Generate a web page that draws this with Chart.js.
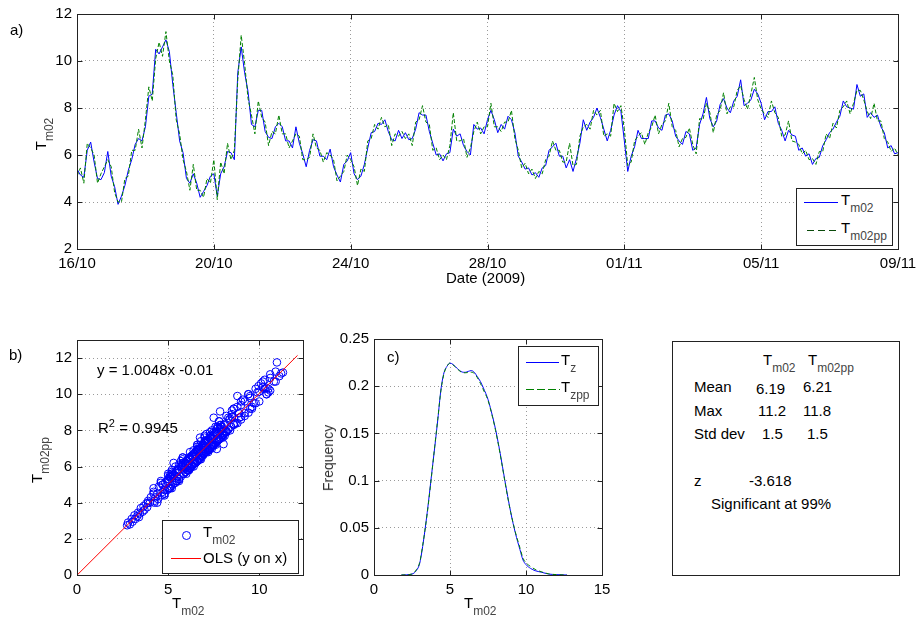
<!DOCTYPE html>
<html>
<head>
<meta charset="utf-8">
<script src="https://cdn.jsdelivr.net/npm/chart.js@4.4.1/dist/chart.umd.min.js"></script>
<style>
  body { margin: 0; background: #fff; font-family: "Liberation Sans", Arial, sans-serif; }
  #fig { position: relative; width: 920px; height: 620px; overflow: hidden; }
  canvas { position: absolute; }
  .txt { position: absolute; white-space: nowrap; font-size: 15px; color: #000; line-height: 1; }
  .sub { font-size: 12px; position: relative; top: 7px; color: #444; }
  .sup { font-size: 11px; position: relative; top: -6px; }
  .rot { transform: translate(-50%, -50%) rotate(-90deg); }
  .box { position: absolute; border: 1px solid #222; background: #fff; }
  .ln { position: absolute; height: 1px; }
</style>
</head>
<body>
<div id="fig">
  <canvas id="ca" width="920" height="300" style="left:0;top:0"></canvas>
  <canvas id="cb" width="320" height="320" style="left:0;top:300px"></canvas>
  <canvas id="cc" width="300" height="320" style="left:320px;top:300px"></canvas>

  <!-- panel a texts -->
  <div class="txt" style="left:10px;top:22px">a)</div>
  <div class="txt rot" style="left:40px;top:134px">T<span class="sub">m02</span></div>
  <div class="txt" style="left:446px;top:270px">Date (2009)</div>
  <div class="box" style="left:796px;top:188px;width:95px;height:56px">
    <div class="ln" style="left:7px;top:13px;width:34px;background:#00f"></div>
    <div class="txt" style="left:44px;top:3px">T<span class="sub">m02</span></div>
    <div class="ln" style="left:10px;top:41px;width:32px;background:repeating-linear-gradient(to right,#0a4a0a 0 7px,transparent 7px 11px)"></div>
    <div class="txt" style="left:44px;top:31px">T<span class="sub">m02pp</span></div>
  </div>

  <!-- panel b texts -->
  <div class="txt" style="left:9px;top:347px">b)</div>
  <div class="txt rot" style="left:36px;top:460px">T<span class="sub">m02pp</span></div>
  <div class="txt" style="left:172px;top:595px">T<span class="sub">m02</span></div>
  <div class="txt" style="left:97px;top:362px">y = 1.0048x -0.01</div>
  <div class="txt" style="left:98px;top:420px">R<span class="sup">2</span> = 0.9945</div>
  <div class="box" style="left:162px;top:520px;width:135px;height:52px">
    <div style="position:absolute;left:19px;top:10px;width:7px;height:7px;border:1px solid #00f;border-radius:50%"></div>
    <div class="txt" style="left:40px;top:3px">T<span class="sub">m02</span></div>
    <div class="ln" style="left:8px;top:37px;width:30px;background:#f00"></div>
    <div class="txt" style="left:40px;top:29px">OLS (y on x)</div>
  </div>

  <!-- panel c texts -->
  <div class="txt" style="left:387px;top:349px">c)</div>
  <div class="txt rot" style="left:328px;top:458px;font-size:14px;color:#333">Frequency</div>
  <div class="txt" style="left:464px;top:595px">T<span class="sub">m02</span></div>
  <div class="box" style="left:518px;top:346px;width:79px;height:58px">
    <div class="ln" style="left:7px;top:15px;width:33px;background:#00f"></div>
    <div class="txt" style="left:42px;top:5px">T<span class="sub">z</span></div>
    <div class="ln" style="left:7px;top:42px;width:34px;background:repeating-linear-gradient(to right,#008000 0 8px,transparent 8px 11px)"></div>
    <div class="txt" style="left:42px;top:32px">T<span class="sub">zpp</span></div>
  </div>

  <!-- panel d: statistics box -->
  <div class="box" style="left:672px;top:341px;width:226px;height:233px"></div>
  <div class="txt" style="left:763px;top:352px">T<span class="sub">m02</span></div>
  <div class="txt" style="left:808px;top:352px">T<span class="sub">m02pp</span></div>
  <div class="txt" style="left:694px;top:379px">Mean</div>
  <div class="txt" style="left:756px;top:381px">6.19</div>
  <div class="txt" style="left:803px;top:379px">6.21</div>
  <div class="txt" style="left:694px;top:403px">Max</div>
  <div class="txt" style="left:758px;top:403px">11.2</div>
  <div class="txt" style="left:803px;top:403px">11.8</div>
  <div class="txt" style="left:694px;top:426px">Std dev</div>
  <div class="txt" style="left:762px;top:426px">1.5</div>
  <div class="txt" style="left:807px;top:426px">1.5</div>
  <div class="txt" style="left:694px;top:473px">z</div>
  <div class="txt" style="left:749px;top:473px">-3.618</div>
  <div class="txt" style="left:711px;top:496px">Significant at 99%</div>
</div>

<script>
'use strict';
//___________DATA__________________
// a) time series, one value every 0.1 day from 16/10/2009
var dayStep = 0.1;
var dateLabels = ['16/10', '20/10', '24/10', '28/10', '01/11', '05/11', '09/11'];
var tm02 = [
  5.4, 5.15, 5.05, 6.2, 6.55, 5.7, 5.0, 4.95, 5.25, 6.15,
  5.1, 4.65, 3.9, 4.25, 4.7, 5.35, 5.8, 6.45, 6.7, 6.6,
  7.2, 8.5, 8.6, 10.5, 10.3, 10.6, 10.9, 10.4, 9.0, 7.8,
  6.6, 6.1, 5.0, 4.8, 5.2, 4.8, 4.2, 4.45, 4.7, 5.1,
  5.2, 4.25, 5.2, 5.5, 6.15, 6.1, 5.8, 9.5, 10.6, 9.5,
  8.7, 7.3, 7.2, 7.9, 7.9, 7.0, 6.75, 6.7, 7.2, 7.35,
  7.2, 6.6, 6.6, 6.3, 7.2, 6.5, 6.05, 5.5, 6.2, 6.65,
  6.6, 5.95, 5.95, 5.8, 6.25, 5.5, 5.15, 4.85, 5.6, 5.75,
  6.1, 5.2, 4.95, 5.1, 5.6, 6.3, 6.95, 7.0, 7.35, 7.3,
  7.5, 7.0, 6.65, 6.6, 7.05, 6.7, 6.95, 6.65, 6.7, 7.1,
  7.8, 7.7, 7.7, 7.0, 6.5, 6.0, 6.05, 5.75, 6.05, 6.1,
  7.1, 6.8, 6.9, 6.4, 6.15, 6.0, 7.3, 7.1, 7.15, 6.9,
  7.5, 7.9, 7.5, 6.95, 7.3, 7.1, 7.65, 7.5, 6.95, 5.95,
  5.7, 5.4, 5.45, 5.15, 5.25, 5.05, 5.45, 5.55, 6.2, 6.35,
  6.5, 5.95, 5.95, 5.45, 5.8, 5.3, 5.85, 6.5, 7.5, 7.05,
  7.4, 7.6, 8.0, 7.6, 7.1, 6.6, 7.05, 7.7, 8.1, 7.85,
  6.6, 5.3, 5.95, 6.35, 7.05, 6.7, 6.7, 6.7, 7.45, 7.45,
  7.15, 7.05, 7.7, 7.75, 7.45, 6.8, 6.6, 6.45, 7.0, 6.9,
  6.2, 6.3, 7.3, 7.75, 8.45, 7.55, 7.2, 7.45, 8.15, 8.4,
  8.0, 7.8, 8.3, 8.5, 9.2, 8.1, 8.2, 8.35, 8.8, 8.6,
  8.2, 7.5, 7.85, 7.85, 8.05, 7.35, 7.05, 6.6, 7.05, 6.85,
  6.8, 6.2, 6.3, 5.95, 6.05, 5.6, 5.85, 5.9, 6.4, 6.65,
  6.95, 7.1, 7.4, 7.65, 8.3, 8.05, 8.0, 7.95, 9.0, 8.5,
  8.6, 7.6, 7.8, 7.6, 7.7, 7.2, 6.95, 6.3, 6.4, 6.05,
  6.1
];
var tm02pp = [
  5.1, 5.45, 4.8, 6.5, 6.3, 6.0, 4.8, 5.2, 5.5, 5.8,
  5.5, 4.4, 4.0, 4.0, 5.0, 5.1, 6.2, 6.2, 7.1, 6.3,
  7.5, 8.9, 8.3, 10.1, 10.8, 10.2, 11.25, 10.0, 9.4, 7.5,
  6.9, 5.8, 5.3, 4.5, 5.6, 4.5, 4.5, 4.2, 5.0, 4.8,
  5.8, 4.1, 5.7, 5.2, 6.5, 5.8, 6.2, 9.2, 11.1, 9.9,
  8.4, 7.7, 6.9, 8.3, 7.6, 7.4, 6.4, 7.0, 6.9, 7.7,
  6.9, 6.9, 6.3, 6.6, 6.9, 6.8, 5.8, 5.8, 5.9, 6.9,
  6.3, 6.2, 5.7, 6.1, 6.0, 5.8, 4.9, 5.1, 5.3, 6.0,
  5.8, 5.5, 4.7, 5.4, 5.3, 6.6, 6.7, 7.3, 7.1, 7.6,
  7.2, 7.3, 6.4, 6.9, 6.8, 7.0, 6.7, 6.9, 6.4, 7.4,
  7.5, 8.1, 7.4, 7.3, 6.2, 6.3, 5.8, 6.0, 5.8, 6.4,
  7.8, 6.6, 6.6, 6.7, 5.9, 6.3, 7.0, 7.4, 6.9, 7.2,
  7.2, 8.2, 7.2, 7.2, 7.0, 7.4, 7.4, 7.9, 6.7, 6.2,
  5.45, 5.65, 5.2, 5.4, 5.0, 5.3, 5.2, 5.8, 5.95, 6.6,
  6.2, 6.2, 5.7, 5.7, 6.5, 5.55, 5.6, 6.8, 7.2, 7.3,
  7.1, 7.9, 7.7, 7.9, 6.8, 6.9, 6.8, 8.2, 7.85, 8.1,
  7.1, 5.55, 5.7, 6.6, 6.8, 6.95, 6.45, 6.95, 7.2, 7.7,
  6.9, 7.3, 7.45, 8.2, 7.2, 7.05, 6.35, 6.7, 6.75, 7.15,
  6.45, 6.05, 7.55, 7.5, 8.2, 7.8, 6.95, 7.7, 7.9, 8.65,
  7.75, 8.05, 8.05, 8.75, 8.95, 8.35, 7.95, 8.6, 9.3, 8.35,
  7.95, 7.75, 7.6, 8.3, 7.8, 7.6, 6.8, 6.85, 7.45, 6.6,
  6.55, 6.45, 6.05, 6.2, 5.8, 5.85, 5.6, 6.15, 6.15, 6.9,
  6.7, 7.35, 7.15, 7.9, 8.05, 8.3, 7.75, 8.2, 8.75, 8.75,
  8.35, 7.85, 7.55, 8.2, 7.45, 7.45, 6.7, 6.55, 6.15, 6.3,
  6.0
];

// b) extra scatter points (outside the shown period)
var extraX = [2.75, 2.8, 2.9, 3.0, 3.05, 3.15, 3.2, 3.3, 3.35, 3.45,
  3.5, 3.6, 3.65, 3.7, 3.8, 3.85, 3.9, 4.0, 4.05, 4.2,
  4.3, 4.5, 4.7, 5.0, 5.3, 5.6, 6.0, 6.4, 6.75, 7.5,
  7.85, 8.8, 9.96, 7.67, 8.04, 9.41, 10.4, 10.8, 11.3, 10.97,
  10.6, 11.1, 9.2, 9.7, 10.2, 8.3, 8.9, 9.5, 10.0, 3.4,
  4.4, 4.8, 5.5, 6.2, 6.9, 7.2, 9.9, 10.3, 10.9, 11.2,
  4.6, 5.2, 5.8, 6.3, 6.6, 7.0, 7.4, 7.8, 8.2, 8.6,
  9.0, 9.4, 9.8, 5.1, 5.7, 6.5, 7.3, 8.1, 8.5, 9.1,
  9.6, 10.1, 10.5, 6.8, 7.6,
  4.2, 4.6, 5.0, 5.4, 5.8, 6.2, 6.6, 7.0, 7.4, 7.8,
  8.2, 8.6, 9.0, 9.4, 9.8, 10.2, 4.4, 4.8, 5.2, 5.6,
  6.0, 6.4, 6.8, 7.2, 7.6, 8.0, 8.4, 8.8, 9.2, 9.6,
  10.0, 10.4, 5.9, 6.9, 7.9, 8.9];
var extraY = [2.75, 2.9, 2.8, 3.1, 2.95, 3.3, 3.1, 3.25, 3.45, 3.4,
  3.7, 3.5, 3.8, 3.6, 3.95, 3.75, 4.1, 4.0, 4.3, 4.6,
  4.3, 4.9, 4.6, 5.6, 6.2, 6.1, 6.3, 6.9, 7.6, 8.7,
  9.05, 9.9, 10.45, 6.97, 7.24, 8.98, 10.35, 10.7, 11.2, 11.76,
  10.9, 11.0, 9.6, 9.5, 10.4, 8.7, 8.7, 9.8, 10.15, 3.2,
  4.5, 4.7, 5.4, 6.4, 7.1, 7.0, 10.1, 10.3, 10.7, 11.15,
  5.1, 5.6, 6.4, 6.0, 7.2, 7.6, 7.0, 8.5, 7.9, 9.2,
  8.6, 10.0, 9.5, 4.8, 6.3, 6.2, 7.9, 7.7, 9.1, 9.7,
  9.3, 10.6, 10.3, 7.4, 7.3,
  4.8, 5.2, 5.5, 6.0, 6.5, 6.8, 7.2, 7.7, 8.0, 8.5,
  8.8, 9.2, 9.6, 10.0, 10.3, 10.7, 4.0, 4.4, 4.8, 5.2,
  5.6, 6.0, 6.4, 6.8, 7.2, 7.6, 8.0, 8.4, 8.8, 9.2,
  9.6, 10.0, 5.95, 6.85, 8.0, 8.95];
var olsSlope = 1.0048;
var olsIntercept = -0.01;
var olsEndX = [0, 12.1];

// c) frequency curves
var densX = [1.8, 2.5, 2.8, 3.0, 3.2, 3.5, 3.8, 4.0, 4.2, 4.4,
  4.6, 4.8, 5.0, 5.2, 5.5, 5.8, 6.0, 6.2, 6.4, 6.6,
  6.8, 7.0, 7.2, 7.5, 7.8, 8.0, 8.3, 8.6, 8.8, 9.0,
  9.3, 9.6, 9.8, 10.0, 10.3, 10.6, 11.0, 11.5, 12.0, 12.7];
var densTz = [0, 0.001, 0.005, 0.012, 0.03, 0.066, 0.108, 0.136, 0.165, 0.196,
  0.214, 0.221, 0.2245, 0.223, 0.2185, 0.215, 0.2147, 0.2157, 0.2165, 0.2147,
  0.21, 0.205, 0.198, 0.186, 0.168, 0.154, 0.129, 0.101, 0.083, 0.066,
  0.0445, 0.027, 0.016, 0.011, 0.007, 0.0046, 0.003, 0.001, 0.0004, 0];
var densTzpp = [0, 0.001, 0.006, 0.013, 0.031, 0.065, 0.107, 0.137, 0.166, 0.195,
  0.213, 0.221, 0.2245, 0.2225, 0.218, 0.2145, 0.2142, 0.2145, 0.2148, 0.2135,
  0.209, 0.203, 0.196, 0.185, 0.167, 0.153, 0.128, 0.1, 0.082, 0.066,
  0.0455, 0.029, 0.018, 0.013, 0.009, 0.006, 0.0035, 0.0012, 0.0004, 0];

//___________COMMON SETTINGS__________________
Chart.defaults.font.family = '"Liberation Sans", Arial, sans-serif';
Chart.defaults.font.size = 15;
Chart.defaults.color = '#000';

// matlab style box with inward ticks
var framePlugin = {
  id: 'frame',
  afterDraw: function(chart) {
    var a = chart.chartArea, ctx = chart.ctx;
    var l = Math.round(a.left) + 0.5, r = Math.round(a.right) + 0.5;
    var t = Math.round(a.top) + 0.5, b = Math.round(a.bottom) + 0.5;
    ctx.save();
    ctx.strokeStyle = '#222';
    ctx.lineWidth = 1;
    ctx.beginPath();
    chart.scales.x.ticks.forEach(function(tk) {
      var px = Math.round(chart.scales.x.getPixelForValue(tk.value)) + 0.5;
      ctx.moveTo(px, b); ctx.lineTo(px, b - 5);
      ctx.moveTo(px, t); ctx.lineTo(px, t + 5);
    });
    chart.scales.y.ticks.forEach(function(tk) {
      var py = Math.round(chart.scales.y.getPixelForValue(tk.value)) + 0.5;
      ctx.moveTo(l, py); ctx.lineTo(l + 5, py);
      ctx.moveTo(r, py); ctx.lineTo(r - 5, py);
    });
    ctx.stroke();
    ctx.strokeRect(l, t, r - l, b - t);
    ctx.restore();
  }
};

function yFit(w) {
  return function(s) { s.width = w; s.paddingTop = 0; s.paddingBottom = 0; };
}
function xFit(h) {
  return function(s) { s.height = h; s.paddingLeft = 0; s.paddingRight = 0; };
}
var gridOpts = { color: '#9a9a9a', lineWidth: 1, drawTicks: false };
var borderOpts = { display: false, dash: [1, 3] };

function baseOptions(pad) {
  return {
    responsive: false,
    animation: false,
    events: [],
    layout: { padding: pad },
    plugins: { legend: { display: false }, tooltip: { enabled: false } }
  };
}

//___________A) TIME SERIES__________________
var days = tm02.map(function(v, i) { return Math.round(i * dayStep * 10) / 10; });
var optsA = baseOptions({ top: 14, right: 22, left: 0, bottom: 0 });
optsA.scales = {
  x: {
    type: 'linear', min: 0, max: 24,
    grid: gridOpts, border: borderOpts,
    ticks: { stepSize: 4, padding: 6, maxRotation: 0,
      callback: function(v) { return dateLabels[Math.round(v / 4)]; } },
    afterFit: xFit(51)
  },
  y: {
    min: 2, max: 12,
    grid: gridOpts, border: borderOpts,
    ticks: { stepSize: 2, padding: 5 },
    afterFit: yFit(77)
  }
};
new Chart(document.getElementById('ca').getContext('2d'), {
  type: 'line',
  data: {
    labels: days,
    datasets: [
      { label: 'Tm02', data: tm02.map(function(v, i) { return { x: days[i], y: v }; }),
        borderColor: '#0000ff', borderWidth: 1, pointRadius: 0, order: 1 },
      { label: 'Tm02pp', data: tm02pp.map(function(v, i) { return { x: days[i], y: v }; }),
        borderColor: '#008000', borderWidth: 1, borderDash: [4, 2], pointRadius: 0, order: 0 }
    ]
  },
  options: optsA,
  plugins: [framePlugin]
});

//___________B) SCATTER__________________
var scatterPts = tm02.map(function(v, i) { return { x: v, y: tm02pp[i] }; });
for (var i = 0; i < extraX.length; i++) {
  scatterPts.push({ x: extraX[i], y: extraY[i] });
}
var olsPts = olsEndX.map(function(x) { return { x: x, y: olsSlope * x + olsIntercept }; });
var optsB = baseOptions({ top: 40, right: 17, left: 0, bottom: 0 });
optsB.scales = {
  x: {
    type: 'linear', min: 0, max: 12.4,
    grid: gridOpts, border: borderOpts,
    ticks: { stepSize: 5, padding: 6, includeBounds: false },
    afterFit: xFit(45)
  },
  y: {
    min: 0, max: 13,
    grid: gridOpts, border: borderOpts,
    ticks: { stepSize: 2, padding: 5, includeBounds: false },
    afterFit: yFit(77)
  }
};
new Chart(document.getElementById('cb').getContext('2d'), {
  type: 'scatter',
  data: {
    datasets: [
      { label: 'Tm02', data: scatterPts, pointStyle: 'circle', pointRadius: 3.8,
        borderColor: '#0000ff', backgroundColor: 'rgba(0,0,0,0)', borderWidth: 1, order: 1 },
      { label: 'OLS (y on x)', type: 'line', data: olsPts, borderColor: '#ff0000',
        borderWidth: 1, pointRadius: 0, order: 0 }
    ]
  },
  options: optsB,
  plugins: [framePlugin]
});

//___________C) FREQUENCY__________________
var optsC = baseOptions({ top: 39, right: 18, left: 0, bottom: 0 });
optsC.scales = {
  x: {
    type: 'linear', min: 0, max: 15,
    grid: gridOpts, border: borderOpts,
    ticks: { stepSize: 5, padding: 6 },
    afterFit: xFit(45)
  },
  y: {
    min: 0, max: 0.25,
    grid: gridOpts, border: borderOpts,
    ticks: { stepSize: 0.05, padding: 5,
      callback: function(v) { return String(Math.round(v * 100) / 100); } },
    afterFit: yFit(54)
  }
};
new Chart(document.getElementById('cc').getContext('2d'), {
  type: 'line',
  data: {
    datasets: [
      { label: 'Tz', data: densTz.map(function(v, i) { return { x: densX[i], y: v }; }),
        borderColor: '#0000ff', borderWidth: 1, pointRadius: 0,
        cubicInterpolationMode: 'monotone', order: 1 },
      { label: 'Tzpp', data: densTzpp.map(function(v, i) { return { x: densX[i], y: v }; }),
        borderColor: '#008000', borderWidth: 1, borderDash: [4, 3], pointRadius: 0,
        cubicInterpolationMode: 'monotone', order: 0 }
    ]
  },
  options: optsC,
  plugins: [framePlugin]
});
</script>
</body>
</html>
